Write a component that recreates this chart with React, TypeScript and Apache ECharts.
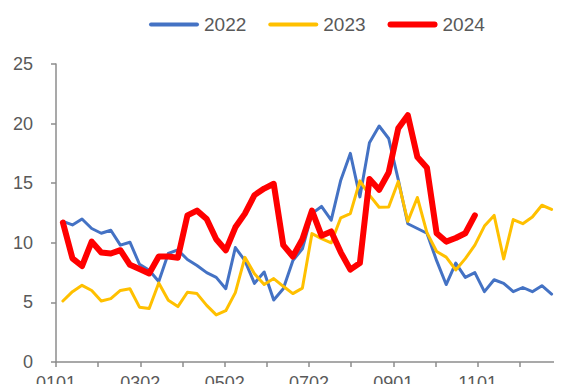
import React, { useEffect, useRef } from "react";
import * as echarts from "echarts";

// Day-of-year positions of the samples (shared by all years)
const sampleDays = [
  4.9, 11.7, 18.5, 25.4, 32.2, 39.0, 45.8, 52.6, 59.4, 66.3,
  73.1, 79.9, 86.7, 93.5, 100.3, 107.2, 114.0, 120.8, 127.6, 134.4,
  141.2, 148.1, 154.9, 161.7, 168.5, 175.3, 182.1, 188.9, 195.8, 202.6,
  209.4, 216.2, 223.0, 229.9, 236.7, 243.5, 250.3, 257.1, 263.9, 270.8,
  277.6, 284.4, 291.2, 298.0, 304.8, 311.7, 318.5, 325.3, 332.1, 338.9,
  345.7, 352.6,
];

const tickLabels = ["0101", "0302", "0502", "0702", "0901", "1101", "1231"];

const values2022 = [
  11.8, 11.5, 12.0, 11.2, 10.8, 11.05, 9.8, 10.05, 8.2, 7.7,
  6.75, 9.1, 9.4, 8.6, 8.1, 7.5, 7.1, 6.15, 9.6, 8.5,
  6.6, 7.55, 5.2, 6.15, 8.5, 9.5, 12.45, 13.05, 11.9, 15.25,
  17.5, 13.85, 18.4, 19.8, 18.75, 15.3, 11.6, 11.2, 10.8, 8.5,
  6.5, 8.3, 7.1, 7.5, 5.9, 6.9, 6.6, 5.9, 6.25, 5.9,
  6.4, 5.7,
];

const values2023 = [
  5.12, 5.9, 6.43, 6.0, 5.12, 5.32, 6.0, 6.15, 4.6, 4.48,
  6.63, 5.18, 4.65, 5.85, 5.74, 4.75, 3.95, 4.3, 5.82, 8.78,
  7.4, 6.5, 7.0, 6.35, 5.74, 6.2, 10.77, 10.35, 10.0, 12.1,
  12.45, 15.2, 14.0, 12.98, 13.0, 15.15, 11.8, 13.8, 10.85, 9.27,
  8.8, 7.72, 8.67, 9.8, 11.4, 12.3, 8.65, 11.95, 11.6, 12.16,
  13.15, 12.8,
];

const values2024 = [
  11.7, 8.7, 8.05, 10.1, 9.18, 9.1, 9.38, 8.15, 7.8, 7.43,
  8.85, 8.85, 8.75, 12.3, 12.7, 12.0, 10.3, 9.37, 11.3, 12.45,
  14.0, 14.55, 14.95, 9.8, 8.85, 10.3, 12.7, 10.6, 10.95, 9.2,
  7.75, 8.3, 15.35, 14.45, 15.9, 19.6, 20.7, 17.2, 16.3, 10.8,
  10.1, 10.4, 10.8, 12.3,
];

const seriesNames = ["2022", "2023", "2024"];
const seriesColors = ["#4472C4", "#FFC000", "#FF0000"];

const FONT = "'Liberation Sans', Arial, sans-serif";
const AXIS_COLOR = "#8C8C8C";
const TEXT_COLOR = "#595959";

function toPairs(vals: number[]) {
  return vals.map((v, i) => [sampleDays[i], v]);
}

export default function App() {
  const ref = useRef<HTMLDivElement>(null);

  useEffect(() => {
    if (!ref.current) return;
    const chart = echarts.init(ref.current, undefined, { renderer: "svg" });
    const allValues = [values2022, values2023, values2024];
    const widths = [3, 3, 6];
    const icons = [
      "path://M2,0H48A2,2,0,0,1,48,4H2A2,2,0,0,1,2,0Z",
      "path://M2,0H48A2,2,0,0,1,48,4H2A2,2,0,0,1,2,0Z",
      "path://M3,0H47A3,3,0,0,1,47,6H3A3,3,0,0,1,3,0Z",
    ];
    chart.setOption({
      animation: false,
      backgroundColor: "#ffffff",
      legend: {
        left: 144,
        top: 10,
        itemWidth: 50,
        itemHeight: 7,
        itemGap: 22,
        textStyle: { fontFamily: FONT, fontSize: 19, color: TEXT_COLOR },
        data: seriesNames.map((n, i) => ({
          name: n,
          icon: icons[i],
          itemStyle: { color: seriesColors[i], borderWidth: 0 },
        })),
      },
      grid: { left: 56, top: 64, width: 520.2, height: 298 },
      xAxis: {
        type: "value",
        min: 0,
        max: 360,
        interval: 30,
        splitLine: { show: false },
        axisLine: { show: true, lineStyle: { color: AXIS_COLOR, width: 1.5 } },
        axisTick: { show: true, length: 5, lineStyle: { color: AXIS_COLOR, width: 1.5 } },
        axisLabel: {
          margin: 12,
          fontFamily: FONT,
          fontSize: 18,
          color: TEXT_COLOR,
          showMaxLabel: false,
          formatter: (v: number) => (v % 60 === 0 ? tickLabels[v / 60] : ""),
        },
      },
      yAxis: {
        type: "value",
        min: 0,
        max: 25,
        interval: 5,
        splitLine: { show: false },
        axisLine: { show: true, lineStyle: { color: AXIS_COLOR, width: 1.5 } },
        axisTick: { show: true, length: 5, lineStyle: { color: AXIS_COLOR, width: 1.5 } },
        axisLabel: { margin: 23, fontFamily: FONT, fontSize: 18, color: TEXT_COLOR },
      },
      series: seriesNames.map((n, i) => ({
        name: n,
        type: "line",
        data: toPairs(allValues[i]),
        symbol: "none",
        showSymbol: false,
        itemStyle: { color: seriesColors[i] },
        lineStyle: { color: seriesColors[i], width: widths[i], cap: "round", join: "round" },
      })),
    });
    return () => chart.dispose();
  }, []);

  return <div ref={ref} style={{ width: 562, height: 392, margin: -8 }} />;
}
